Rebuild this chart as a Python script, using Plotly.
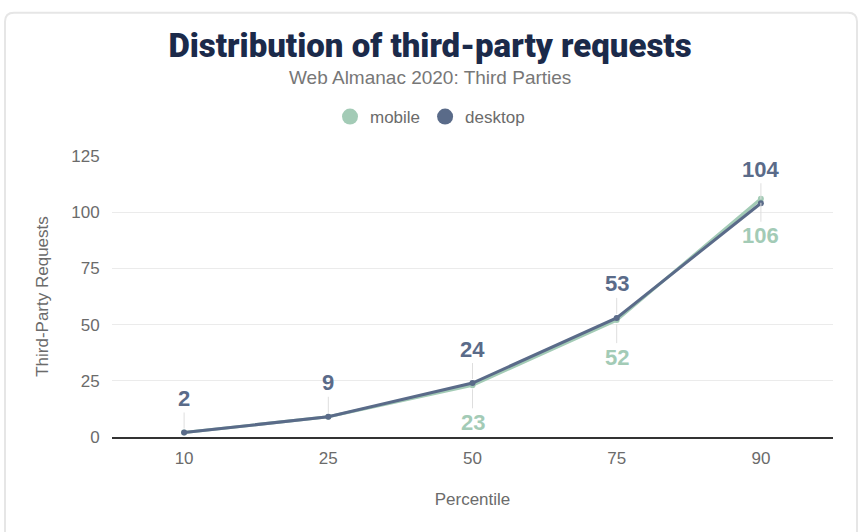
import plotly.graph_objects as go

# data
percentiles = ["10", "25", "50", "75", "90"]
mobile = [2, 9, 23, 52, 106]
desktop = [2, 9, 24, 53, 104]

MOBILE_COLOR = "#a3cbb6"
DESKTOP_COLOR = "#5a6b89"
TEXT_GRAY = "#6b6b6b"
FONT = "Liberation Sans, Arial, sans-serif"

fig = go.Figure()

# lines (mobile drawn first so desktop sits on top)
for name, vals, color in [("mobile", mobile, MOBILE_COLOR), ("desktop", desktop, DESKTOP_COLOR)]:
    fig.add_trace(go.Scatter(
        x=percentiles, y=vals, name=name, mode="lines+markers",
        line=dict(color=color, width=3), marker=dict(size=6, color=color),
        showlegend=False, hoverinfo="x+y+name",
    ))

# legend-only entries (plain circles like the original)
for name, color in [("mobile", MOBILE_COLOR), ("desktop", DESKTOP_COLOR)]:
    fig.add_trace(go.Scatter(
        x=[None], y=[None], name=name, mode="markers",
        marker=dict(size=16, color=color), showlegend=True,
    ))

# plot area in pixels, used for margins and for placing the frame/subtitle
L, T, W, H = 112, 151, 721, 286
def px(x):
    return (x - L) / W
def py(y):
    return (T + H - y) / H

# value labels with small leader lines (x given as category index)
annotations = []
for i, (d, m) in enumerate(zip(desktop, mobile)):
    annotations.append(dict(
        x=i, y=d, text=str(d), showarrow=True, arrowhead=0, arrowwidth=1,
        arrowcolor="#dedede", ax=0, ay=-34, standoff=4,
        font=dict(family=FONT, size=22, color=DESKTOP_COLOR, weight="bold"),
    ))
    if m != d:
        annotations.append(dict(
            x=i, y=m, text=str(m), showarrow=True, arrowhead=0, arrowwidth=1,
            arrowcolor="#dedede", ax=0, ay=37, standoff=4,
            font=dict(family=FONT, size=22, color=MOBILE_COLOR, weight="bold"),
        ))

# subtitle
annotations.append(dict(
    text="Web Almanac 2020: Third Parties", showarrow=False,
    xref="paper", yref="paper", x=px(430), y=py(71),
    xanchor="center", yanchor="middle",
    font=dict(family=FONT, size=19, color="#777777"),
))

# card border with rounded top corners
r = 9
border = (f"M {px(5)},{py(560)} L {px(5)},{py(5 + r)} "
          f"Q {px(5)},{py(5)} {px(5 + r)},{py(5)} "
          f"L {px(857 - r)},{py(5)} Q {px(857)},{py(5)} {px(857)},{py(5 + r)} "
          f"L {px(857)},{py(560)}")

fig.update_layout(
    width=860, height=532,
    margin=dict(l=L, r=860 - L - W, t=T, b=532 - T - H),
    paper_bgcolor="white", plot_bgcolor="white",
    font=dict(family=FONT, color=TEXT_GRAY),
    title=dict(
        text="Distribution of third-party requests",
        x=0.5, xref="container", xanchor="center",
        y=1 - 45 / 532, yref="container", yanchor="middle",
        font=dict(family="Roboto, Liberation Sans, sans-serif", size=33,
                  color="#1b2a4a", weight=900),
    ),
    legend=dict(
        orientation="h", xref="container", x=0.5, xanchor="center",
        yref="container", y=1 - 117 / 532, yanchor="middle",
        font=dict(size=17, color=TEXT_GRAY), itemsizing="trace",
        traceorder="normal",
    ),
    xaxis=dict(
        type="category", range=[-0.5, len(percentiles) - 0.5],
        showgrid=False, showline=True, linecolor="#333333", linewidth=1.5,
        ticks="outside", ticklen=5, tickcolor="rgba(0,0,0,0)",
        tickfont=dict(size=17, color=TEXT_GRAY),
        title=dict(text="Percentile", font=dict(size=17, color=TEXT_GRAY), standoff=26),
        fixedrange=True,
    ),
    yaxis=dict(
        range=[0, 125], dtick=25, showgrid=True, gridcolor="#ebebeb", gridwidth=1,
        zeroline=False, showline=False,
        ticks="outside", ticklen=8, tickcolor="rgba(0,0,0,0)",
        tickfont=dict(size=17, color=TEXT_GRAY),
        title=dict(text="Third-Party Requests", font=dict(size=17, color=TEXT_GRAY), standoff=18),
        fixedrange=True,
    ),
    annotations=annotations,
    shapes=[dict(type="path", path=border, xref="paper", yref="paper",
                 line=dict(color="#e6e6e6", width=2), layer="below")],
    hovermode="closest",
)

# drop the browser's default body margin so the chart sits at the page origin
fig.write_html("out.html", config={"displayModeBar": False},
               post_script="document.body.style.margin='0';")
